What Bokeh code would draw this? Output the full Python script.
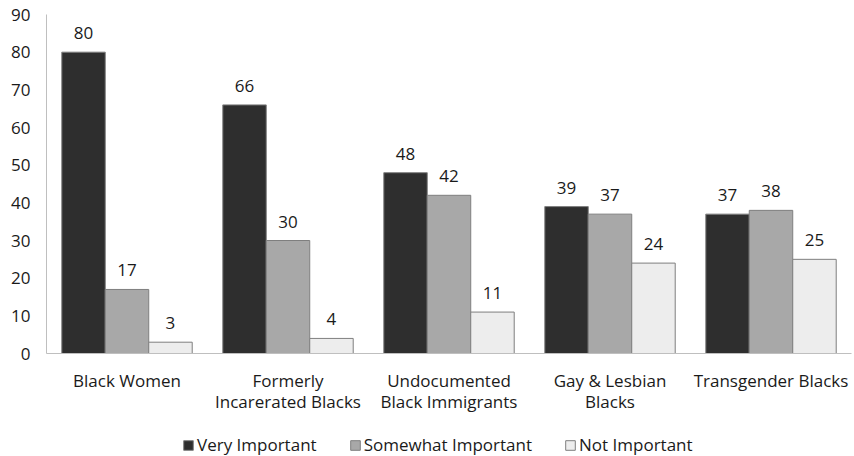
from bokeh.plotting import figure
from bokeh.layouts import column
from bokeh.models import ColumnDataSource, Legend, LegendItem, FixedTicker, Range1d
from bokeh.core.properties import value
from bokeh.embed import file_html
from bokeh.resources import INLINE

categories = ["Black Women", "Formerly\nIncarerated Blacks", "Undocumented\nBlack Immigrants",
              "Gay & Lesbian\nBlacks", "Transgender Blacks"]
series_names = ["Very Important", "Somewhat Important", "Not Important"]
very_important = [80, 66, 48, 39, 37]
somewhat_important = [17, 30, 42, 37, 38]
not_important = [3, 4, 11, 24, 25]
y_ticks = [0, 10, 20, 30, 40, 50, 60, 70, 80, 90]

colors = ["#2e2e2e", "#a8a8a8", "#ededed"]
FONT = "Open Sans"
FS = "17px"
TXT = "#1a1a1a"

p = figure(width=854, height=416, output_backend="svg", toolbar_location=None,
           x_range=Range1d(0, 5), y_range=Range1d(0, 90),
           min_border_left=46, min_border_right=3, min_border_top=14,
           min_border_bottom=63)
p.outline_line_color = None
p.xgrid.visible = False
p.ygrid.visible = False

offsets = [-0.27, 0.0, 0.27]
all_series = [very_important, somewhat_important, not_important]
for k, (vals, col) in enumerate(zip(all_series, colors)):
    xs = [i + 0.5 + offsets[k] for i in range(len(categories))]
    src = ColumnDataSource(dict(x=xs, top=vals, label=[str(v) for v in vals]))
    p.vbar(x="x", top="top", width=0.27, bottom=0, source=src,
           fill_color=col, line_color="#7f7f7f", line_width=1)
    p.text(x="x", y="top", text="label", source=src, text_align="center",
           text_baseline="bottom", y_offset=-13, text_font=value(FONT),
           text_font_size=FS, text_color=TXT)

p.yaxis.ticker = FixedTicker(ticks=y_ticks)
p.yaxis.major_tick_line_color = None
p.yaxis.minor_tick_line_color = None
p.yaxis.axis_line_color = "#bfbfbf"
p.yaxis.major_label_text_font = FONT
p.yaxis.major_label_text_font_size = FS
p.yaxis.major_label_text_color = TXT
p.yaxis.major_label_standoff = 10

p.xaxis.ticker = FixedTicker(ticks=[i + 0.5 for i in range(len(categories))])
p.xaxis.major_label_overrides = {i + 0.5: c for i, c in enumerate(categories)}
p.xaxis.major_tick_line_color = None
p.xaxis.minor_tick_line_color = None
p.xaxis.axis_line_color = "#bfbfbf"
p.xaxis.major_label_text_font = FONT
p.xaxis.major_label_text_font_size = FS
p.xaxis.major_label_text_color = TXT
p.xaxis.major_label_text_line_height = 0.95
p.xaxis.major_label_standoff = 9

# legend strip
lg = figure(width=854, height=40, output_backend="svg", toolbar_location=None,
            x_range=Range1d(0, 1), y_range=Range1d(0, 1),
            x_axis_location=None, y_axis_location=None, min_border=0)
lg.outline_line_color = None
lg.grid.visible = False
items = []
for name, col in zip(series_names, colors):
    r = lg.vbar(x=[float("nan")], top=[float("nan")], width=0.1,
                fill_color=col, line_color="#7f7f7f")
    items.append(LegendItem(label=name, renderers=[r]))
legend = Legend(items=items, orientation="horizontal", location=(136, 0),
                label_text_font=FONT, label_text_font_size=FS,
                label_text_color=TXT, glyph_width=12, glyph_height=12,
                spacing=32, label_standoff=3, border_line_color=None,
                background_fill_alpha=0, padding=2, margin=0)
lg.add_layout(legend)

layout = column(p, lg, spacing=0)
open("out.html", "w").write(file_html(layout, INLINE))
